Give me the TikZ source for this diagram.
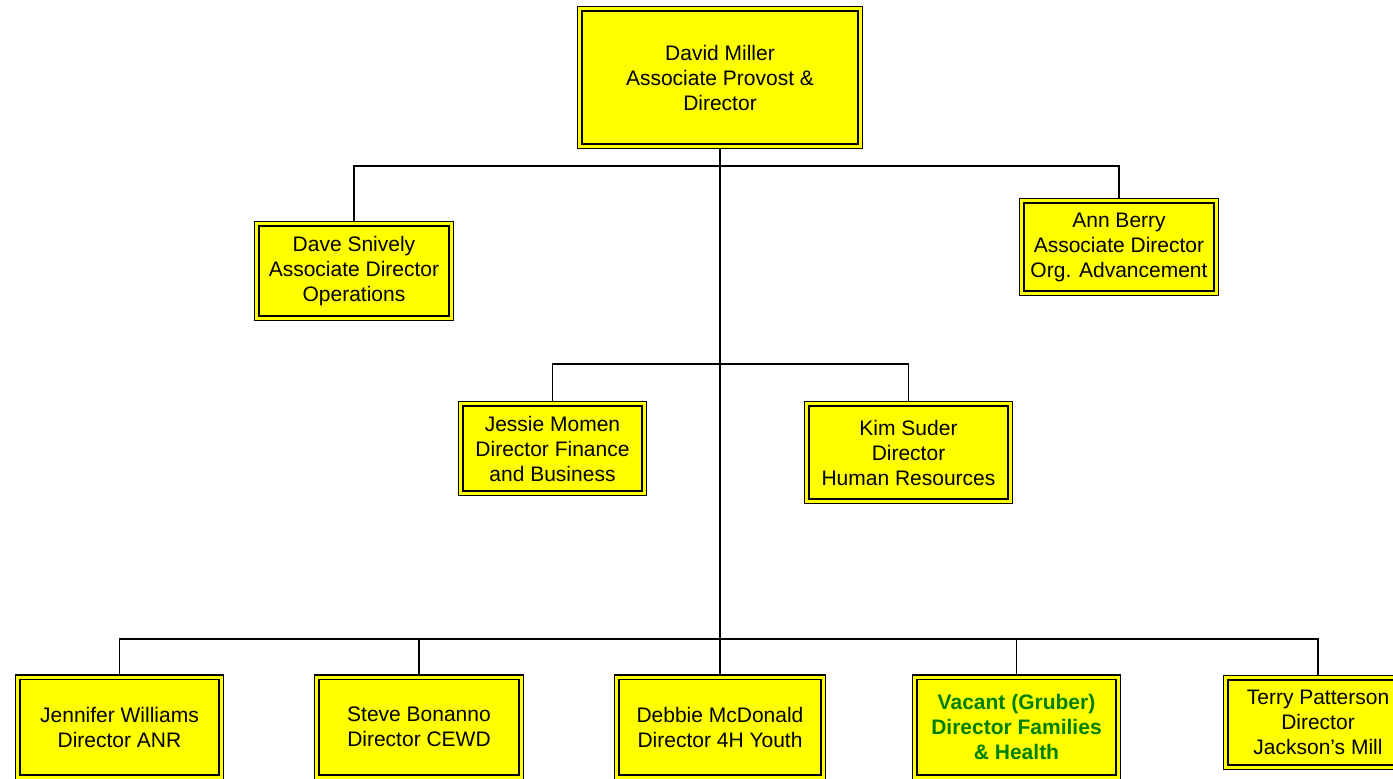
\documentclass[tikz,border=0pt]{standalone}
\usepackage{fontspec}
\setmainfont{Liberation Sans}
\usetikzlibrary{backgrounds}
\definecolor{vacantgreen}{RGB}{0,128,0}
\definecolor{postyellow}{RGB}{255,255,0}

\begin{document}
\begin{tikzpicture}[x=1pt,y=-1pt,semithick,
    link/.style={line width=1.4pt},
    trunk/.style={line width=2pt}]
        \tikzstyle{every post}=[draw=black, line width=1.4pt, double=postyellow, double distance=3pt, fill=postyellow, outer sep=0pt, inner sep=0pt, align=center, font=\fontsize{21}{25}\selectfont]
        \useasboundingbox (0,0) rectangle (1393,779);

        \node[every post, minimum width=280.5, minimum height=137.5] (miller)  at (720,77.5)   {David Miller\\Associate Provost \&\\Director};
        \node[every post, minimum width=194.5, minimum height=94.5]  (snively) at (354,271)    {Dave Snively\\Associate Director\\Operations};
        \node[every post, minimum width=194.5, minimum height=92.5]  (berry)   at (1119,247)   {Ann Berry\\Associate Director\\Org. Advancement};
        \node[every post, minimum width=183.5, minimum height=89.5]  (momen)   at (552.5,448.5) {Jessie Momen\\Director Finance\\and Business};
        \node[every post, minimum width=203.5, minimum height=97.5]  (suder)   at (908.5,452.5) {Kim Suder\\Director\\Human Resources};
        \node[every post, minimum width=203.5, minimum height=100]   (williams) at (119.5,727)  {Jennifer Williams\\Director ANR};
        \node[every post, minimum width=204.5, minimum height=100]   (bonanno) at (419,727)    {Steve Bonanno\\Director CEWD};
        \node[every post, minimum width=206.5, minimum height=100]   (mcdonald) at (720,727)   {Debbie McDonald\\Director 4H Youth};
        \node[every post, minimum width=203.5, minimum height=100, text=vacantgreen, font=\fontsize{21}{25}\selectfont\bfseries] (vacant) at (1016.5,727) {Vacant (Gruber)\\Director Families\\\& Health};
        \node[every post, minimum width=184.5, minimum height=89.5]  (patterson) at (1318,722.5) {Terry Patterson\\Director\\Jackson's Mill};

        \coordinate (busA) at (720,166);
        \coordinate (busB) at (720,364);
        \coordinate (busC) at (720,639);

        \begin{scope}[on background layer]
        \draw[trunk] (miller.south) -- (busC);
        \draw[link] (busA) -| (snively.north);
        \draw[link] (busA) -| (berry.north);
        \draw[link] (busB) -| (momen.north);
        \draw[link] (busB) -| (suder.north);
        \draw[link] (busC) -| (williams.north);
        \draw[link] (busC) -| (bonanno.north);
        \draw[link] (busC) -- (mcdonald.north);
        \draw[link] (busC) -| (vacant.north);
        \draw[link] (busC) -| (patterson.north);
        \end{scope}

      \end{tikzpicture}
\end{document}
